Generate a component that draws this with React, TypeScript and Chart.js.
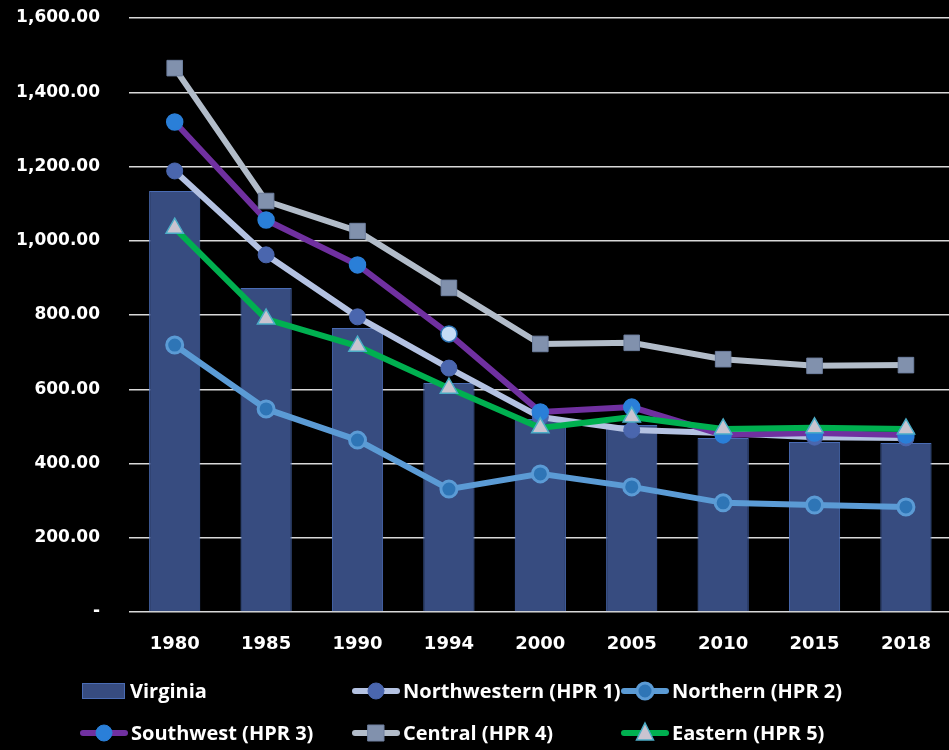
import React, { useEffect, useRef } from "react";
import { Chart, registerables } from "chart.js";

Chart.register(...registerables);

const years = ["1980", "1985", "1990", "1994", "2000", "2005", "2010", "2015", "2018"];
const virginia = [1134, 873, 765, 617, 520, 504, 469, 458, 455];
const northwestern = [1188, 962, 795, 657, 525, 490, 482, 471, 469];
const northern = [719, 547, 463, 331, 372, 337, 294, 288, 283];
const southwest = [1320, 1056, 935, 749, 539, 552, 477, 482, 477];
const central = [1465, 1107, 1026, 873, 722, 725, 681, 663, 665];
const eastern = [1034, 789, 716, 603, 496, 525, 493, 496, 493];
const yTicks = [0, 200, 400, 600, 800, 1000, 1200, 1400, 1600];

const FONT = "'Open Sans', 'DejaVu Sans', sans-serif";
const NUM_FONT = "'DejaVu Sans', sans-serif";

type LegendItem = {
  label: string;
  kind: "bar" | "line";
  x: number;
  y: number;
  lineColor?: string;
  fill: string;
  border: string;
  borderWidth?: number;
  style?: "circle" | "rect" | "triangle";
  radius?: number;
};

const legendItems: LegendItem[] = [
  { label: "Virginia", kind: "bar", x: 82, y: 691, fill: "#374C80", border: "#4A6CB4" },
  { label: "Northwestern (HPR 1)", kind: "line", x: 352, y: 691, lineColor: "#B4C2E2", fill: "#4A66AE", border: "#4A66AE", style: "circle", radius: 8 },
  { label: "Northern (HPR 2)", kind: "line", x: 621, y: 691, lineColor: "#5B9BD5", fill: "#2E75B6", border: "#5B9BD5", borderWidth: 3, style: "circle", radius: 8 },
  { label: "Southwest (HPR 3)", kind: "line", x: 80, y: 733, lineColor: "#7030A0", fill: "#2A7FD8", border: "#2A7FD8", style: "circle", radius: 8 },
  { label: "Central (HPR 4)", kind: "line", x: 352, y: 733, lineColor: "#B2BCC9", fill: "#8191AD", border: "#6E7F9E", style: "rect", radius: 8 },
  { label: "Eastern (HPR 5)", kind: "line", x: 621, y: 733, lineColor: "#00B050", fill: "#C9C4D0", border: "#4BACC6", borderWidth: 1.5, style: "triangle", radius: 9 },
];

const legendPlugin = {
  id: "customLegend",
  afterDraw(chart: any) {
    const ctx = chart.ctx as CanvasRenderingContext2D;
    ctx.save();
    for (const it of legendItems) {
      const w = 48;
      if (it.kind === "bar") {
        ctx.fillStyle = it.fill;
        ctx.strokeStyle = it.border;
        ctx.lineWidth = 1;
        ctx.fillRect(it.x, it.y - 8, 43, 16);
        ctx.strokeRect(it.x + 0.5, it.y - 7.5, 42, 15);
      } else {
        ctx.strokeStyle = it.lineColor!;
        ctx.lineWidth = 6;
        ctx.lineCap = "round";
        ctx.beginPath();
        ctx.moveTo(it.x + 3, it.y);
        ctx.lineTo(it.x + w - 3, it.y);
        ctx.stroke();
        const cx = it.x + w / 2;
        const r = it.radius!;
        ctx.fillStyle = it.fill;
        ctx.strokeStyle = it.border;
        ctx.lineWidth = it.borderWidth || 1;
        ctx.beginPath();
        if (it.style === "circle") {
          ctx.arc(cx, it.y, r, 0, Math.PI * 2);
        } else if (it.style === "rect") {
          ctx.rect(cx - 8, it.y - 8, 16, 16);
        } else {
          ctx.moveTo(cx, it.y - 10);
          ctx.lineTo(cx + 8.5, it.y + 7);
          ctx.lineTo(cx - 8.5, it.y + 7);
          ctx.closePath();
        }
        ctx.fill();
        ctx.stroke();
      }
      ctx.fillStyle = "#FFFFFF";
      ctx.font = `bold 20px ${FONT}`;
      ctx.textBaseline = "middle";
      ctx.textAlign = "left";
      ctx.fillText(it.label, it.x + (it.kind === "bar" ? 48 : 51), it.y + 1);
    }
    ctx.restore();
  },
};

export default function App() {
  const ref = useRef<HTMLCanvasElement | null>(null);

  useEffect(() => {
    if (!ref.current) return;
    const swFill = southwest.map((_, i) => (i === 3 ? "#C5DDF6" : "#2A7FD8"));
    const swBorder = southwest.map((_, i) => (i === 3 ? "#2E75B6" : "#2A7FD8"));
    const chart = new Chart(ref.current, {
      type: "bar",
      data: {
        labels: years,
        datasets: [
          {
            type: "bar",
            label: "Virginia",
            data: virginia,
            backgroundColor: "#374C80",
            borderColor: "#4A6CB4",
            borderWidth: 1,
            barPercentage: 0.56,
            categoryPercentage: 1,
            order: 6,
          },
          {
            type: "line",
            label: "Northwestern (HPR 1)",
            data: northwestern,
            borderColor: "#B4C2E2",
            borderWidth: 6,
            pointBackgroundColor: "#4A66AE",
            pointBorderColor: "#4A66AE",
            pointRadius: 8,
            pointBorderWidth: 1,
            tension: 0,
            order: 5,
          },
          {
            type: "line",
            label: "Northern (HPR 2)",
            data: northern,
            borderColor: "#5B9BD5",
            borderWidth: 6,
            pointBackgroundColor: "#2E75B6",
            pointBorderColor: "#5B9BD5",
            pointRadius: 8,
            pointBorderWidth: 3,
            tension: 0,
            order: 4,
          },
          {
            type: "line",
            label: "Southwest (HPR 3)",
            data: southwest,
            borderColor: "#7030A0",
            borderWidth: 6,
            pointBackgroundColor: swFill,
            pointBorderColor: swBorder,
            pointRadius: 8,
            pointBorderWidth: 1.5,
            tension: 0,
            order: 3,
          },
          {
            type: "line",
            label: "Central (HPR 4)",
            data: central,
            borderColor: "#B2BCC9",
            borderWidth: 6,
            pointStyle: "rect",
            pointBackgroundColor: "#8191AD",
            pointBorderColor: "#6E7F9E",
            pointRadius: 11,
            pointBorderWidth: 1,
            tension: 0,
            order: 2,
          },
          {
            type: "line",
            label: "Eastern (HPR 5)",
            data: eastern,
            borderColor: "#00B050",
            borderWidth: 6,
            pointStyle: "triangle",
            pointBackgroundColor: "#C9C4D0",
            pointBorderColor: "#4BACC6",
            pointRadius: 10,
            pointBorderWidth: 1.5,
            tension: 0,
            order: 1,
          },
        ],
      },
      options: {
        animation: false,
        responsive: false,
        maintainAspectRatio: false,
        layout: { autoPadding: false, padding: { top: 18, right: 0, left: 0, bottom: 0 } },
        plugins: {
          legend: { display: false },
          tooltip: { enabled: false },
        },
        scales: {
          x: {
            offset: true,
            grid: { display: false, drawTicks: false },
            border: { display: false },
            ticks: {
              color: "#FFFFFF",
              font: { family: NUM_FONT, size: 18, weight: "bold" },
              padding: 22,
              maxRotation: 0,
            },
            afterFit(scale: any) {
              scale.height = 138;
            },
          },
          y: {
            min: 0,
            max: 1600,
            grid: { color: "#D9D9D9", lineWidth: 1.5, drawTicks: false },
            border: { display: false },
            afterBuildTicks(scale: any) {
              scale.ticks = yTicks.map((v) => ({ value: v }));
            },
            afterFit(scale: any) {
              scale.width = 129;
              scale.paddingTop = 0;
              scale.paddingBottom = 0;
            },
            ticks: {
              color: "#FFFFFF",
              font: { family: NUM_FONT, size: 17, weight: "bold" },
              padding: 29,
              callback: (v: any) =>
                Number(v) === 0
                  ? "-"
                  : Number(v).toLocaleString("en-US", { minimumFractionDigits: 2, maximumFractionDigits: 2 }),
            },
          },
        },
      },
      plugins: [legendPlugin],
    });
    return () => chart.destroy();
  }, []);

  return (
    <div style={{ position: "absolute", left: 0, top: 0, width: 949, height: 750, overflow: "hidden", background: "#000" }}>
      <canvas ref={ref} width={953} height={750} style={{ display: "block", width: 953, height: 750 }} />
    </div>
  );
}
